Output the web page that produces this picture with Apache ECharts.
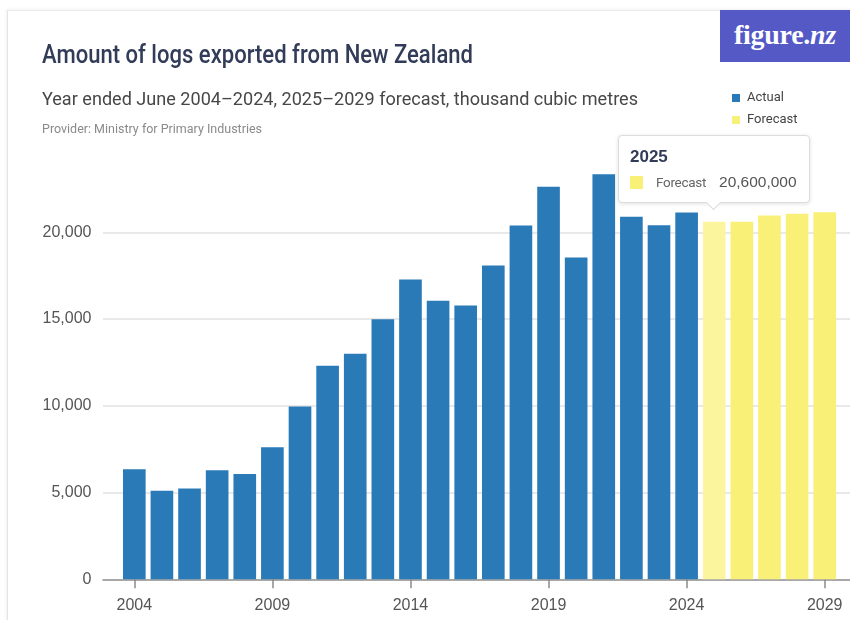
<!DOCTYPE html>
<html>
<head>
<meta charset="utf-8">
<script src="https://cdn.jsdelivr.net/npm/echarts@6/dist/echarts.min.js"></script>
<style>
  html, body { margin: 0; padding: 0; background: #fff; }
  #wrap { position: relative; width: 850px; height: 620px; overflow: hidden; background: #fff; }
  #card { position: absolute; left: 7px; top: 10px; width: 900px; height: 700px;
          border-left: 1px solid #e4e4e4; border-top: 1px solid #ececec;
          box-shadow: -1px -1px 3px rgba(0,0,0,0.06); }
  #logo { position: absolute; left: 720px; top: 10px; width: 130px; height: 52px; background: #5459c6;
          color: #fff; font: bold 28px 'Liberation Serif', 'DejaVu Serif', serif; letter-spacing: -0.3px;
          display: flex; align-items: center; justify-content: center; padding-bottom: 3px; box-sizing: border-box; }
  #logo i { font-style: italic; }
  #chart { position: absolute; left: 0; top: 0; width: 850px; height: 620px; }
</style>
</head>
<body>
<div id="wrap">
  <div id="card"></div>
  <div id="chart"></div>
  <div id="logo">figure.<i>nz</i></div>
</div>
<script>
// Log exports, year ended June, thousand cubic metres
const years = ['2004','2005','2006','2007','2008','2009','2010','2011','2012','2013','2014','2015','2016',
               '2017','2018','2019','2020','2021','2022','2023','2024','2025','2026','2027','2028','2029'];
const actualYears = years.slice(0, 21);
const actualValues = [6340, 5100, 5240, 6280, 6070, 7610, 9960, 12310, 13000, 14990, 17280, 16050, 15780,
                      18090, 20390, 22620, 18540, 23340, 20890, 20400, 21140];
const forecastYears = years.slice(21);
const forecastValues = [20600, 20600, 20960, 21060, 21160];
const yTicks = [0, 5000, 10000, 15000, 20000];

const HEAD = "Roboto, 'Liberation Sans', sans-serif";
const SANS = "'Liberation Sans', Arial, sans-serif";
const fmt = v => Math.round(v).toLocaleString('en-US');

// Each series fills only its own years so both share one slot per category
const actualData = years.map(y => { const i = actualYears.indexOf(y); return i < 0 ? '-' : actualValues[i]; });
const forecastData = years.map(y => { const i = forecastYears.indexOf(y); return i < 0 ? '-' : forecastValues[i]; });

const yMax = 25000, yStep = 5000;
const gridTop = 145.5, gridBottom = 40.7;

// Heading texts are set in a condensed cut: squeeze the regular face to the wanted line length
const measurer = document.createElement('canvas').getContext('2d');
function headingText(text, x, y, size, weight, color, width) {
  measurer.font = `${weight} ${size}px ${HEAD}`;
  const w = measurer.measureText(text).width;
  return {
    type: 'text', x: x, y: y, scaleX: width / w, silent: true,
    style: { text: text, font: `${weight} ${size}px ${HEAD}`, fill: color,
             textAlign: 'left', textVerticalAlign: 'middle' }
  };
}

const chart = echarts.init(document.getElementById('chart'), null, { renderer: 'canvas' });
chart.setOption({
  animation: false,
  graphic: [
    headingText('Amount of logs exported from New Zealand', 42, 57, 25, 500, '#323c58', 431),
    headingText('Year ended June 2004–2024, 2025–2029 forecast, thousand cubic metres', 42, 100.4, 18.5, 400, '#474747', 596),
    headingText('Provider: Ministry for Primary Industries', 42, 129.6, 12, 400, '#8a8a8a', 220)
  ],
  legend: {
    orient: 'vertical', left: 732, top: 91, padding: 0, itemWidth: 8, itemHeight: 8, itemGap: 8, icon: 'rect',
    selectedMode: false,
    textStyle: { fontFamily: HEAD, fontSize: 13, color: '#444', lineHeight: 14, padding: [0, 0, 0, 2] },
    data: ['Actual', 'Forecast']
  },
  tooltip: {
    trigger: 'item', alwaysShowContent: true, triggerOn: 'none',
    transitionDuration: 0, backgroundColor: '#fff', borderColor: '#dcdcdc', borderWidth: 1,
    padding: [11, 12, 12, 11], extraCssText: 'border-radius:4px;box-shadow:0 1px 4px rgba(0,0,0,0.12);',
    position: (point, params, dom, rect, size) =>
      [rect.x + rect.width / 2 - size.contentSize[0] / 2, rect.y - size.contentSize[1] - 19],
    formatter: p =>
      `<div style="font-family:${SANS};font-size:17px;font-weight:bold;color:#323c58;line-height:20px;margin-bottom:7px">${p.name}</div>` +
      `<div style="display:flex;align-items:center;line-height:16px;white-space:nowrap">` +
      `<span style="display:inline-block;width:13px;height:13px;background:#f9f177;margin-right:13px"></span>` +
      `<span style="font-family:${HEAD};font-size:13.5px;letter-spacing:-0.3px;color:#666;margin-right:13px">${p.seriesName}</span>` +
      `<span style="font-family:${SANS};font-size:15.5px;color:#555">${fmt(p.value * 1000)}</span></div>` +
      `<div style="position:absolute;left:50%;bottom:-6px;width:10px;height:10px;margin-left:-6px;background:#fff;` +
      `border-right:1px solid #dcdcdc;border-bottom:1px solid #dcdcdc;transform:rotate(45deg)"></div>`
  },
  grid: [
    { left: 120.5, right: 11.5, top: gridTop, bottom: gridBottom },
    { left: 103, right: 0, top: gridTop, bottom: gridBottom }
  ],
  xAxis: [
    { type: 'category', data: years, gridIndex: 0,
      axisLine: { show: false },
      axisTick: { show: true, interval: 4, alignWithLabel: true, length: 9, lineStyle: { color: '#8c8c8c', width: 1.5 } },
      axisLabel: { interval: 4, margin: 18, fontFamily: SANS, fontSize: 16, color: '#555' } },
    { type: 'value', gridIndex: 1, min: 0, max: 1,
      axisLine: { show: true, onZero: false, lineStyle: { color: '#8c8c8c', width: 1.5 } },
      axisTick: { show: false }, axisLabel: { show: false }, splitLine: { show: false } }
  ],
  yAxis: [
    { type: 'value', gridIndex: 0, min: 0, max: yMax, interval: yStep,
      axisLine: { show: false }, axisTick: { show: false }, splitLine: { show: false },
      axisLabel: { margin: 29, fontFamily: SANS, fontSize: 16, color: '#555', showMaxLabel: false,
                   formatter: v => yTicks.includes(v) ? fmt(v) : '' } },
    { type: 'value', gridIndex: 1, min: 0, max: yMax, interval: yStep,
      axisLine: { show: false }, axisTick: { show: false }, axisLabel: { show: false },
      splitLine: { show: true, showMinLine: false, showMaxLine: false, lineStyle: { color: '#e2e2e2', width: 1.5 } } }
  ],
  series: [
    { name: 'Actual', type: 'bar', stack: 'year', data: actualData, barCategoryGap: '18%',
      itemStyle: { color: '#2a7ab8' }, emphasis: { disabled: true } },
    { name: 'Forecast', type: 'bar', stack: 'year', data: forecastData, barCategoryGap: '18%',
      itemStyle: { color: '#f9f177' }, emphasis: { itemStyle: { color: '#fbf59e' } } }
  ]
});

const tipIndex = years.indexOf(forecastYears[0]);
chart.dispatchAction({ type: 'highlight', seriesIndex: 1, dataIndex: tipIndex });
chart.dispatchAction({ type: 'showTip', seriesIndex: 1, dataIndex: tipIndex });
</script>
</body>
</html>
